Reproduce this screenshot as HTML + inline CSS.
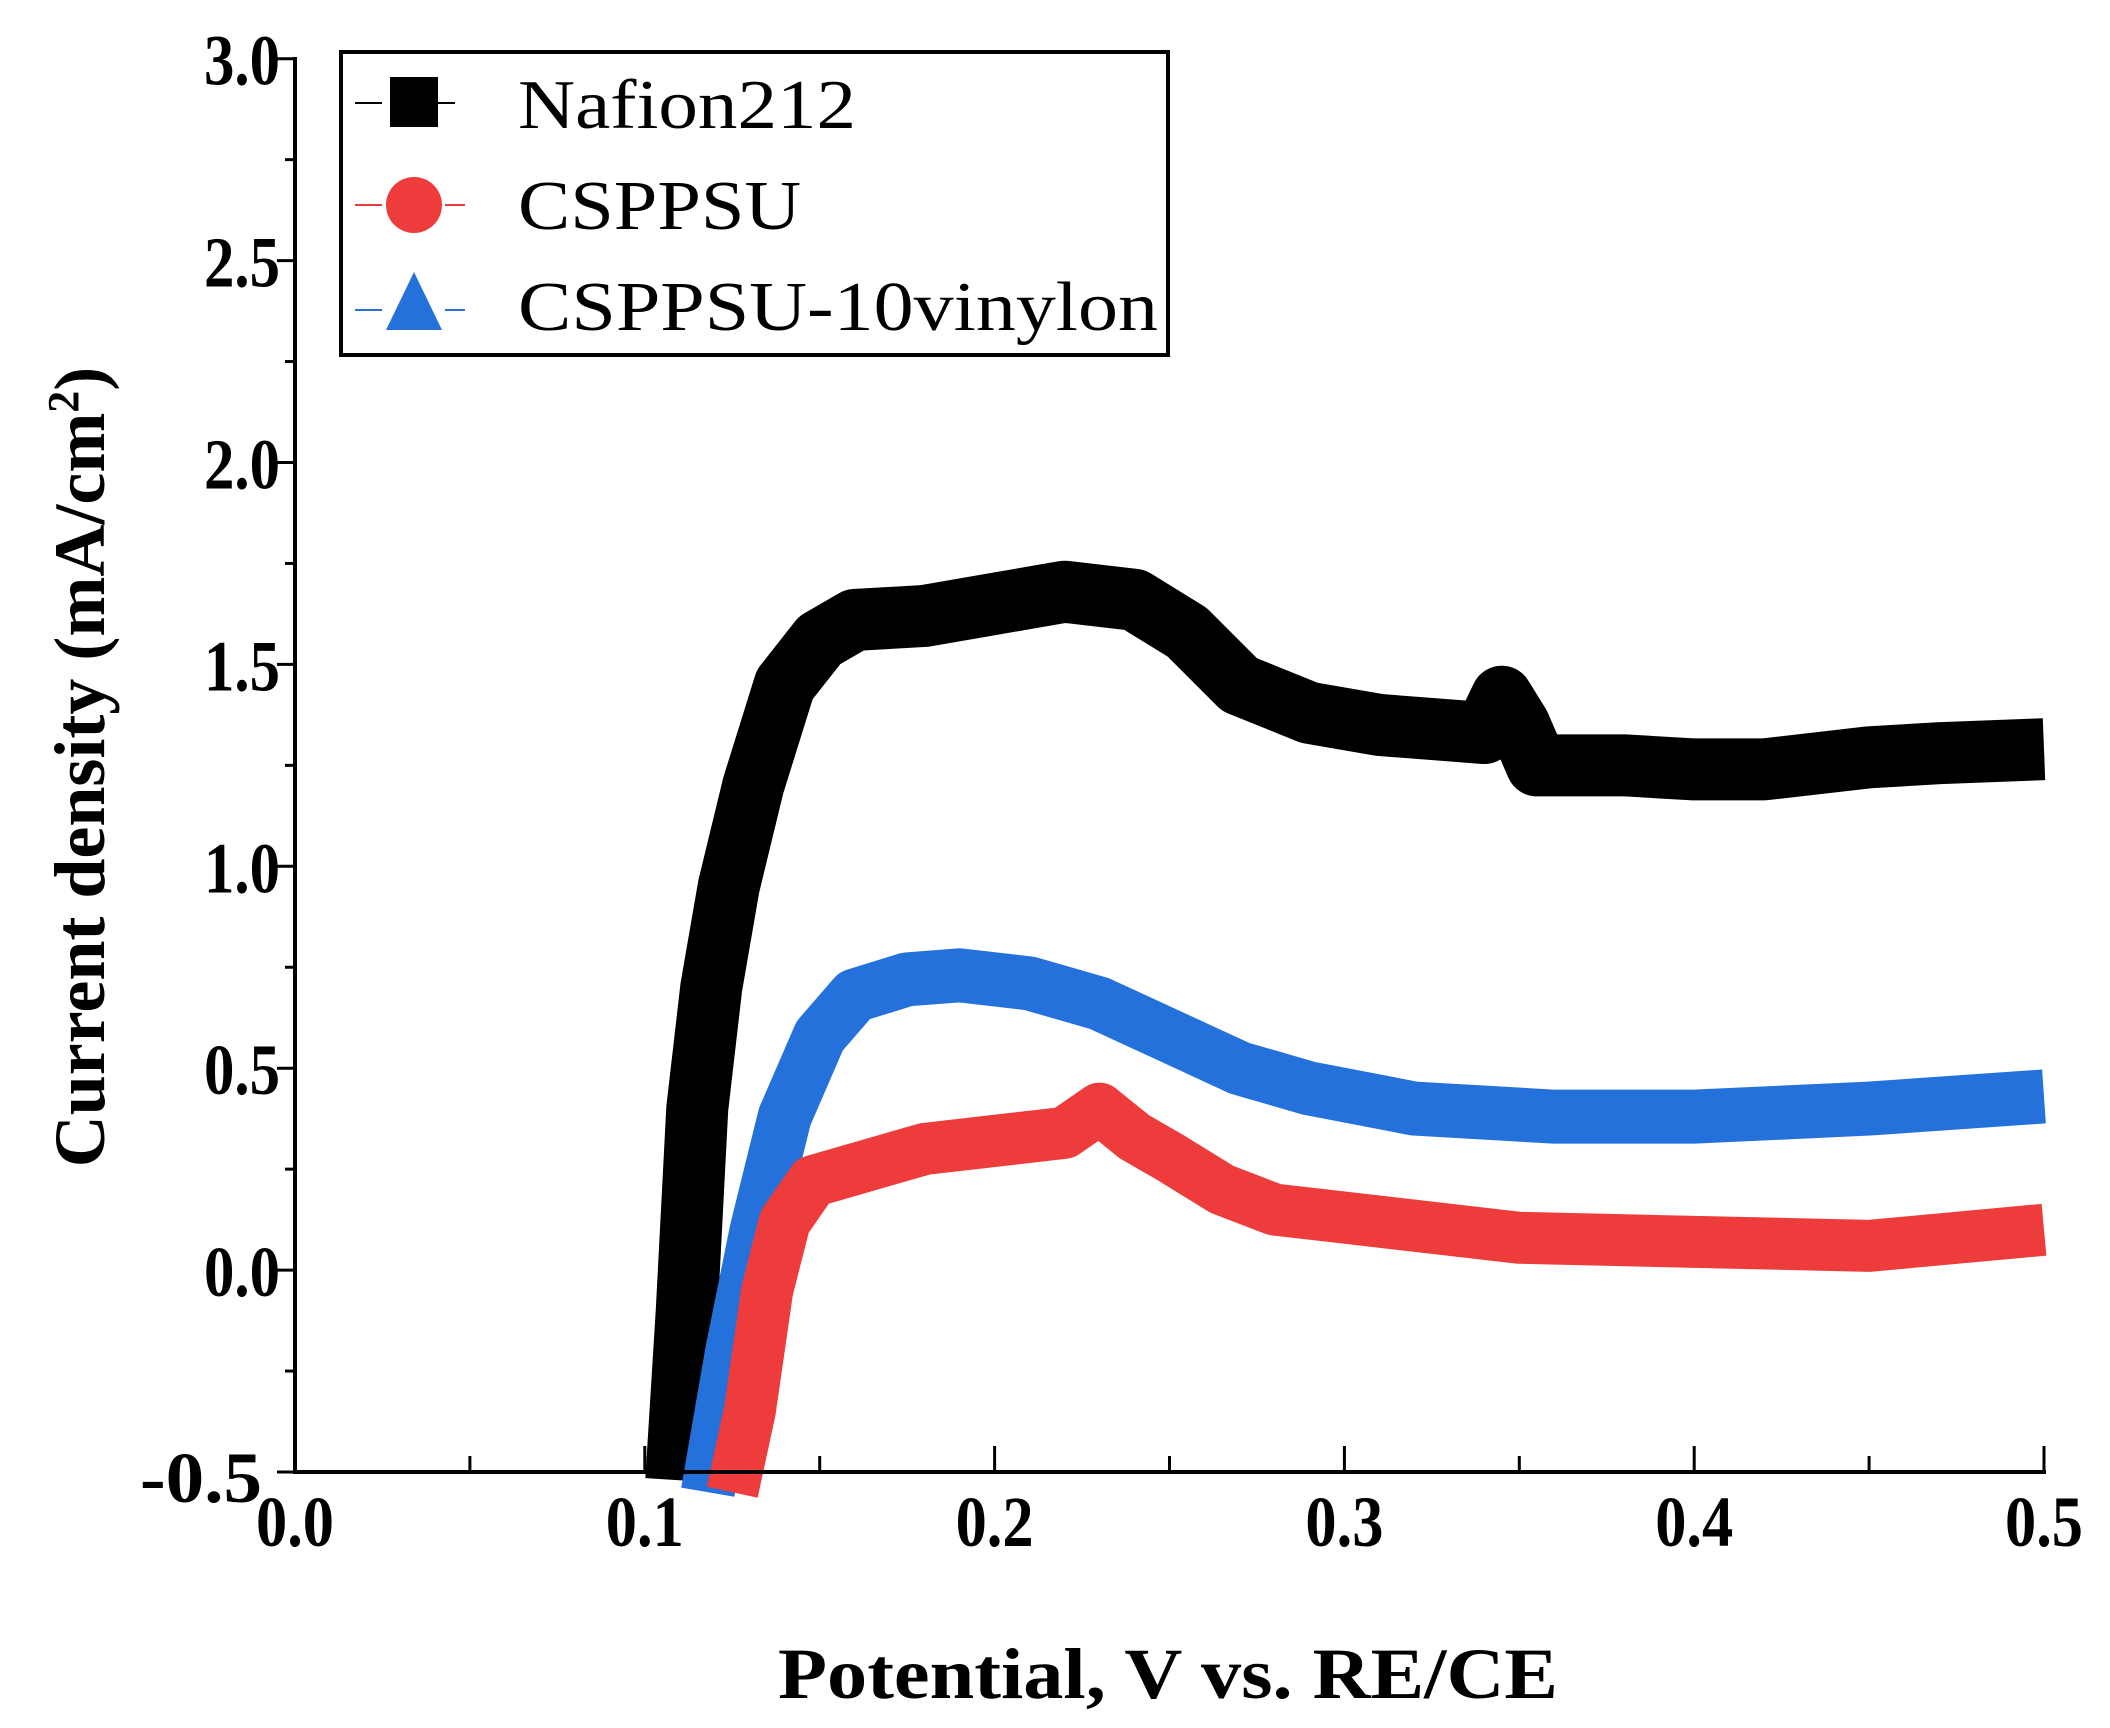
<!DOCTYPE html>
<html><head><meta charset="utf-8"><style>
html,body{margin:0;padding:0;background:#fff;}
svg{display:block;}
text{font-family:"Liberation Serif",serif;}
</style></head><body>
<svg id="s" width="2110" height="1728" viewBox="0 0 2110 1728" xmlns="http://www.w3.org/2000/svg">
<g id="data"></g>
<g stroke="#000" stroke-width="4" fill="none">
<line x1="295" y1="57" x2="295" y2="1474"/>
<line x1="293" y1="1472" x2="2046" y2="1472"/>
</g>
<g id="ticks" stroke="#000" stroke-width="3"></g>
<g id="labels" font-weight="bold" font-size="72" fill="#000"></g>
<text x="1168" y="1698" font-size="72" font-weight="bold" text-anchor="middle" textLength="780" lengthAdjust="spacingAndGlyphs">Potential, V vs. RE/CE</text>
<text transform="translate(104,767) rotate(-90)" font-size="72" font-weight="bold" text-anchor="middle">Current density (mA/cm<tspan dy="-26" font-size="44">2</tspan><tspan dy="26">)</tspan></text>
<rect x="341" y="52" width="827" height="303" fill="#fff" stroke="#000" stroke-width="4"/>
<g font-size="70">
<line x1="355" y1="103" x2="382" y2="103" stroke="#000" stroke-width="2"/><line x1="430" y1="103" x2="455" y2="103" stroke="#000" stroke-width="2"/>
<rect x="390" y="77" width="48" height="50" fill="#000"/>
<text x="518" y="128" textLength="338" lengthAdjust="spacingAndGlyphs">Nafion212</text>
<line x1="355" y1="205" x2="382" y2="205" stroke="#e83a3a" stroke-width="2"/><line x1="445" y1="205" x2="465" y2="205" stroke="#e83a3a" stroke-width="2"/>
<circle cx="414" cy="205" r="28" fill="#ee3b3b"/>
<text x="518" y="229" textLength="283" lengthAdjust="spacingAndGlyphs">CSPPSU</text>
<line x1="355" y1="310" x2="382" y2="310" stroke="#2a6fd6" stroke-width="2"/><line x1="445" y1="310" x2="465" y2="310" stroke="#2a6fd6" stroke-width="2"/>
<polygon points="414,272 386,330 442,330" fill="#2471dc"/>
<text x="518" y="330" textLength="640" lengthAdjust="spacingAndGlyphs">CSPPSU-10vinylon</text>
</g>
</svg>
<script>
var X=function(v){return 295+v*3498;},Y=function(c){return 1472-(c+0.5)*403.8;};
var ns="http://www.w3.org/2000/svg";
function line(pts,col,w){var p=document.createElementNS(ns,"polyline");
p.setAttribute("points",pts.map(function(d){return X(d[0])+","+Y(d[1]);}).join(" "));
p.setAttribute("fill","none");p.setAttribute("stroke",col);p.setAttribute("stroke-width",w);
p.setAttribute("stroke-linejoin","round");document.getElementById("data").appendChild(p);}
line([[0.109,-0.52],[0.112,-0.1],[0.115,0.4],[0.119,0.7],[0.124,0.95],[0.131,1.2],[0.14,1.45],[0.15,1.56],[0.16,1.61],[0.18,1.62],[0.2,1.65],[0.22,1.68],[0.24,1.66],[0.255,1.58],[0.27,1.45],[0.29,1.38],[0.31,1.35],[0.34,1.33],[0.345,1.42],[0.35,1.35],[0.355,1.25],[0.38,1.25],[0.4,1.24],[0.42,1.24],[0.45,1.27],[0.47,1.28],[0.5,1.29]],"#000",62);
line([[0.118,-0.55],[0.125,-0.2],[0.132,0.1],[0.14,0.38],[0.15,0.58],[0.16,0.68],[0.175,0.72],[0.19,0.73],[0.21,0.71],[0.23,0.66],[0.25,0.58],[0.27,0.5],[0.29,0.45],[0.32,0.4],[0.36,0.38],[0.4,0.38],[0.45,0.4],[0.5,0.43]],"#2471dc",54);
line([[0.125,-0.55],[0.13,-0.35],[0.135,-0.05],[0.14,0.12],[0.148,0.22],[0.16,0.25],[0.18,0.3],[0.2,0.32],[0.22,0.34],[0.23,0.4],[0.24,0.33],[0.25,0.28],[0.265,0.2],[0.28,0.15],[0.3,0.13],[0.35,0.08],[0.4,0.07],[0.45,0.06],[0.5,0.1]],"#ee3b3b",52);
var t=document.getElementById("ticks"),l=document.getElementById("labels");
function el(tag,a,par,txt){var e=document.createElementNS(ns,tag);for(var k in a)e.setAttribute(k,a[k]);if(txt)e.textContent=txt;par.appendChild(e);}
for(var i=0;i<=14;i++){var c=-0.5+i*0.25,y=Y(c);el("line",{x1:295,y1:y,x2:(i%2==0?277:285),y2:y},t);
if(i%2==0){var s=c.toFixed(1),neg=s.length==4;el("text",{x:(neg?262:280),y:y+(neg?30:26),"text-anchor":"end",textLength:(neg?122:76),lengthAdjust:"spacingAndGlyphs"},l,s);}}
for(var i=0;i<=10;i++){var v=i*0.05,x=X(v);el("line",{x1:x,y1:1472,x2:x,y2:(i%2==0?1446:1456)},t);
if(i%2==0)el("text",{x:x,y:1546,"text-anchor":"middle",textLength:78,lengthAdjust:"spacingAndGlyphs"},l,v.toFixed(1));}
</script>
</body></html>
